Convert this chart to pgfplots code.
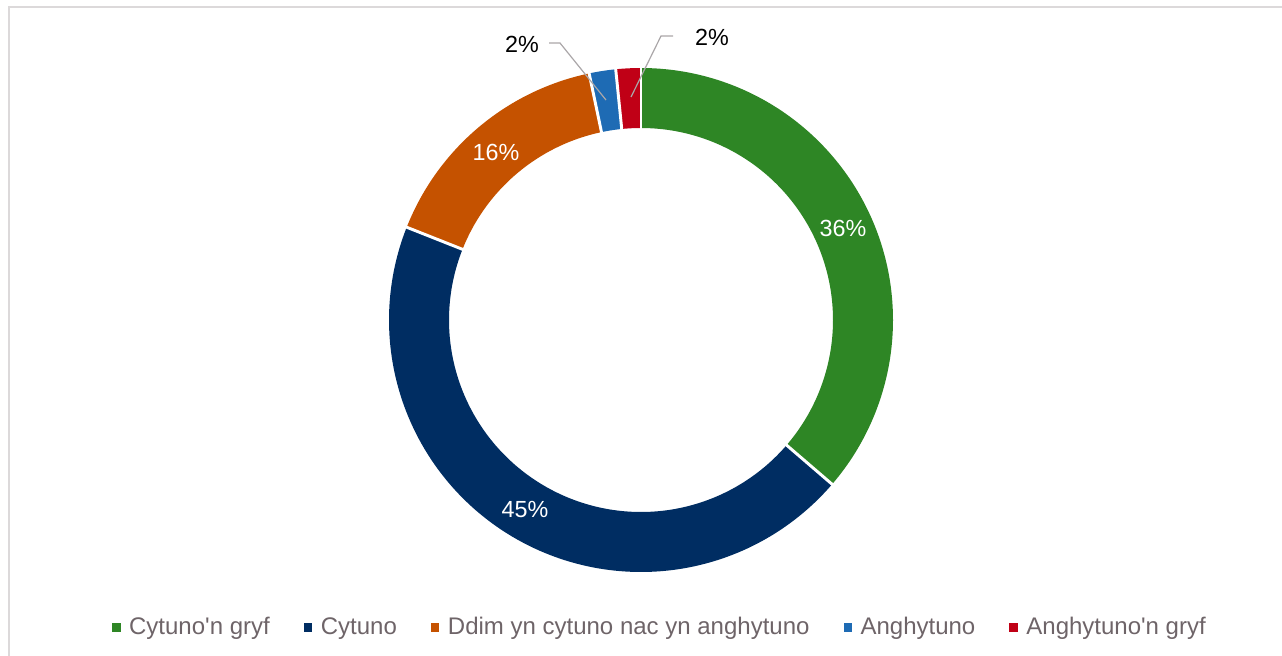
\documentclass[border=0pt]{standalone}
\usepackage{pgfplots}
\pgfplotsset{compat=1.18}
\usepackage{fontspec}
\setmainfont{Liberation Sans}
\newfontfamily\plainfont{Liberation Sans}[Ligatures=NoCommon]
\definecolor{cgreen}{RGB}{46,134,37}
\definecolor{cnavy}{RGB}{0,45,98}
\definecolor{corange}{RGB}{197,82,0}
\definecolor{cblue}{RGB}{30,107,180}
\definecolor{cred}{RGB}{192,0,22}
\definecolor{legtext}{RGB}{110,100,104}
\definecolor{leader}{RGB}{170,166,168}
\definecolor{frame}{RGB}{220,217,218}
\newcommand{\lfont}{\plainfont\fontsize{17.5}{21}\selectfont}
\newcommand{\gfont}{\plainfont\fontsize{18}{21.6}\selectfont}
% values (percent), clockwise from 12 o'clock
\def\vA{36.3} % Cytuno'n gryf
\def\vB{44.7} % Cytuno
\def\vC{15.7} % Ddim yn cytuno nac yn anghytuno
\def\vD{1.7}  % Anghytuno
\def\vE{1.6}  % Anghytuno'n gryf
\pgfmathsetmacro\aO{0}
\pgfmathsetmacro\aA{\aO+3.6*\vA}
\pgfmathsetmacro\aB{\aA+3.6*\vB}
\pgfmathsetmacro\aC{\aB+3.6*\vC}
\pgfmathsetmacro\aD{\aC+3.6*\vD}
\pgfmathsetmacro\aE{\aD+3.6*\vE}
\begin{document}
\begin{tikzpicture}
\begin{axis}[
  scale only axis, width=961.5pt, height=492pt,
  xmin=0, xmax=1282, ymin=0, ymax=656, y dir=reverse,
  hide axis, clip=false,
  legend columns=5,
  legend style={at={(axis cs:659,627)}, anchor=center, draw=none, fill=none,
    font=\gfont, text=legtext,
    nodes={inner sep=0pt, anchor=base west},
    /tikz/every odd column/.append style={column sep=6.8pt},
    /tikz/every even column/.append style={column sep=25.6pt}},
]
% frame
\draw[frame, line width=1.5pt] (axis cs:9,656) -- (axis cs:9,7) -- (axis cs:1282,7);
% donut slices (mid radius 222, width 60)
\addplot[forget plot, cgreen, line width=45pt, domain=\aO:\aA, samples=120, variable=\t] ({641+222*sin(\t)},{320-222*cos(\t)});
\addplot[forget plot, cnavy, line width=45pt, domain=\aA:\aB, samples=140, variable=\t] ({641+222*sin(\t)},{320-222*cos(\t)});
\addplot[forget plot, corange, line width=45pt, domain=\aB:\aC, samples=60, variable=\t] ({641+222*sin(\t)},{320-222*cos(\t)});
\addplot[forget plot, cblue, line width=45pt, domain=\aC:\aD, samples=10, variable=\t] ({641+222*sin(\t)},{320-222*cos(\t)});
\addplot[forget plot, cred, line width=45pt, domain=\aD:\aE, samples=10, variable=\t] ({641+222*sin(\t)},{320-222*cos(\t)});
% white separators
\addplot[forget plot, white, line width=2.2pt, domain=185:260, samples=2] ({641+x*sin(\aO)},{320-x*cos(\aO)});
\addplot[forget plot, white, line width=2.2pt, domain=185:260, samples=2] ({641+x*sin(\aA)},{320-x*cos(\aA)});
\addplot[forget plot, white, line width=2.2pt, domain=185:260, samples=2] ({641+x*sin(\aB)},{320-x*cos(\aB)});
\addplot[forget plot, white, line width=2.2pt, domain=185:260, samples=2] ({641+x*sin(\aC)},{320-x*cos(\aC)});
\addplot[forget plot, white, line width=2.2pt, domain=185:260, samples=2] ({641+x*sin(\aD)},{320-x*cos(\aD)});
% leader lines
\addplot[forget plot, leader, line width=0.9pt] coordinates {(549,43) (560,43) (606,100)};
\addplot[forget plot, leader, line width=0.9pt] coordinates {(673,36) (661,36) (631,97)};
% data labels
\node[font=\lfont, text=white] at (axis cs:843,228) {36\%};
\node[font=\lfont, text=white] at (axis cs:525,510) {45\%};
\node[font=\lfont, text=white] at (axis cs:496,152) {16\%};
\node[font=\lfont, text=black] at (axis cs:522,44) {2\%};
\node[font=\lfont, text=black] at (axis cs:712,37) {2\%};
% legend
\addlegendimage{legend image code/.code={\fill[cgreen] (0pt,2.75pt) rectangle (5.5pt,8.25pt);}}
\addlegendentry{Cytuno'n gryf}
\addlegendimage{legend image code/.code={\fill[cnavy] (0pt,2.75pt) rectangle (5.5pt,8.25pt);}}
\addlegendentry{Cytuno}
\addlegendimage{legend image code/.code={\fill[corange] (0pt,2.75pt) rectangle (5.5pt,8.25pt);}}
\addlegendentry{Ddim yn cytuno nac yn anghytuno}
\addlegendimage{legend image code/.code={\fill[cblue] (0pt,2.75pt) rectangle (5.5pt,8.25pt);}}
\addlegendentry{Anghytuno}
\addlegendimage{legend image code/.code={\fill[cred] (0pt,2.75pt) rectangle (5.5pt,8.25pt);}}
\addlegendentry{Anghytuno'n gryf}
\end{axis}
\pgfresetboundingbox
\path[use as bounding box] (0,0) rectangle (961.5pt,492pt);
\end{tikzpicture}
\end{document}
